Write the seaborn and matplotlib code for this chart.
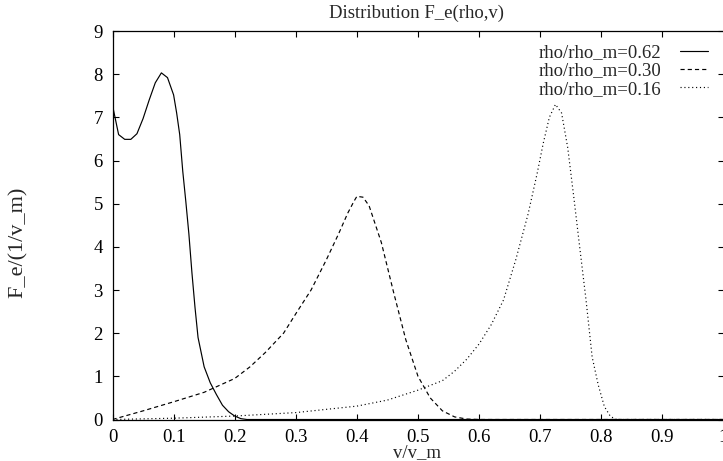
import matplotlib
matplotlib.use("Agg")
import matplotlib.pyplot as plt
import numpy as np
import pandas as pd
import seaborn as sns

# Velocity distribution F_e(rho, v) for three densities
v_062 = [0.0, 0.01, 0.02, 0.03, 0.04, 0.05, 0.06, 0.07, 0.08, 0.09, 0.10,
         0.105, 0.11, 0.115, 0.12, 0.125, 0.13, 0.135, 0.14, 0.15, 0.16,
         0.17, 0.18, 0.19, 0.20, 0.21, 0.22, 1.0]
f_062 = [7.28, 6.60, 6.49, 6.49, 6.62, 6.97, 7.40, 7.80, 8.03, 7.92, 7.52,
         7.10, 6.60, 5.75, 5.05, 4.30, 3.40, 2.60, 1.90, 1.22, 0.85,
         0.58, 0.33, 0.18, 0.08, 0.02, 0.0, 0.0]

v_030 = [0.0, 0.05, 0.10, 0.15, 0.20, 0.225, 0.25, 0.28, 0.30, 0.325, 0.35,
         0.37, 0.385, 0.395, 0.40, 0.41, 0.42, 0.44, 0.46, 0.48, 0.50, 0.52,
         0.54, 0.56, 0.58, 0.60, 1.0]
f_030 = [0.0, 0.20, 0.41, 0.63, 0.95, 1.22, 1.55, 2.00, 2.45, 3.00, 3.70,
         4.30, 4.78, 5.05, 5.17, 5.15, 4.95, 4.10, 2.95, 1.85, 1.00, 0.50,
         0.20, 0.06, 0.01, 0.0, 0.0]

v_016 = [0.0, 0.10, 0.20, 0.30, 0.40, 0.45, 0.50, 0.54, 0.56, 0.58, 0.60,
         0.62, 0.64, 0.66, 0.68, 0.695, 0.705, 0.715, 0.725, 0.735, 0.745,
         0.755, 0.765, 0.775, 0.785, 0.795, 0.805, 0.815, 0.825, 1.0]
f_016 = [0.0, 0.03, 0.08, 0.16, 0.31, 0.45, 0.68, 0.90, 1.12, 1.40, 1.75,
         2.20, 2.77, 3.70, 4.75, 5.70, 6.40, 7.00, 7.30, 7.10, 6.30,
         5.15, 3.95, 2.77, 1.45, 0.80, 0.30, 0.07, 0.0, 0.0]

labels = ["rho/rho_m=0.62", "rho/rho_m=0.30", "rho/rho_m=0.16"]
x_ticks = [0, 0.1, 0.2, 0.3, 0.4, 0.5, 0.6, 0.7, 0.8, 0.9, 1]
x_tick_labels = ["0", "0.1", "0.2", "0.3", "0.4", "0.5", "0.6", "0.7", "0.8", "0.9", "1"]
y_ticks = [0, 1, 2, 3, 4, 5, 6, 7, 8, 9]

sns.set_theme(style="ticks")
plt.rcParams["font.family"] = ["Liberation Serif", "DejaVu Serif"]
plt.rcParams["lines.scale_dashes"] = False

FS = 13.5
W, H = 723, 461
fig = plt.figure(figsize=(W / 100, H / 100), dpi=100)
ax = fig.add_axes([112.5 / W, 41.5 / H, 611.0 / W, 388.5 / H])

styles = [None, (0, (3.0, 2.2)), (0, (0.8, 2.0))]
series = [(v_062, f_062), (v_030, f_030), (v_016, f_016)]
lw = 0.85
for (xs, ys), lab, dash in zip(series, labels, styles):
    sns.lineplot(x=xs, y=ys, ax=ax, color="black", linewidth=lw,
                 label=lab, sort=False)
    if dash is not None:
        ax.get_lines()[-1].set_linestyle(dash)

ax.set_xlim(0, 1)
ax.set_ylim(0, 9)
ax.set_xticks(x_ticks)
ax.set_xticklabels(x_tick_labels)
ax.set_yticks(y_ticks)
ax.tick_params(direction="in", length=4.5, width=0.8, top=True, right=True,
               labelsize=FS, colors="black", pad=7)
for sp in ax.spines.values():
    sp.set_linewidth(0.9)
    sp.set_color("black")

ax.set_xlabel("")
ax.set_ylabel("")
fig.text(417 / W, 1 - 13 / H, "Distribution F_e(rho,v)", ha="center", va="center", fontsize=FS)
fig.text(417 / W, 1 - 453 / H, "v/v_m", ha="center", va="center", fontsize=FS)
fig.text(18.5 / W, 1 - 242 / H, "F_e/(1/v_m)", ha="center", va="center",
         rotation=90, fontsize=16)

leg = ax.legend(loc="upper right", bbox_to_anchor=(708 / W, 1 - 44 / H),
                bbox_transform=fig.transFigure, frameon=False, fontsize=FS,
                markerfirst=False, handlelength=1.5, handletextpad=1.0,
                labelspacing=0.07, borderpad=0, borderaxespad=0)
for t in leg.get_texts():
    t.set_ha("right")
leg._legend_box.align = "right"

fig.savefig("out.png", dpi=100)
